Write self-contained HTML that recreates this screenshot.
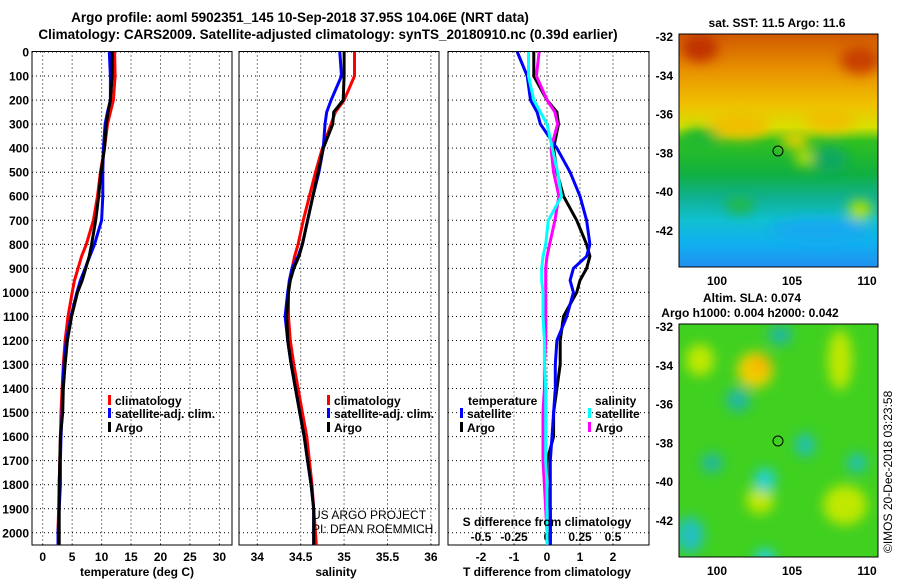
<!DOCTYPE html>
<html><head><meta charset="utf-8"><style>
body{margin:0;background:#fff}
svg{display:block;font-family:"Liberation Sans",sans-serif}
.t{font-weight:bold;font-size:12px}
</style></head><body>
<svg id="c" width="900" height="580" viewBox="0 0 900 580">
<defs>
<linearGradient id="sstg" x1="0" y1="0" x2="0" y2="1">
<stop offset="0" stop-color="#d05800"/><stop offset="0.15" stop-color="#e89000"/><stop offset="0.3" stop-color="#f0c000"/><stop offset="0.4" stop-color="#d8e000"/><stop offset="0.46" stop-color="#30c020"/><stop offset="0.6" stop-color="#10b040"/><stop offset="0.7" stop-color="#10b090"/><stop offset="0.8" stop-color="#10c0d0"/><stop offset="0.9" stop-color="#10b0f0"/><stop offset="1" stop-color="#2090f0"/>
</linearGradient>
<clipPath id="m1c"><rect x="679" y="34" width="199" height="233"/></clipPath>
<clipPath id="m2c"><rect x="679" y="324" width="199" height="233"/></clipPath>
<filter id="blur"><feGaussianBlur stdDeviation="6"/></filter>
</defs>
<text x="300" y="22" text-anchor="middle" font-size="13.5" font-weight="bold">Argo profile: aoml 5902351_145 10-Sep-2018 37.95S 104.06E (NRT data)</text>
<text x="328" y="39" text-anchor="middle" font-size="13.5" font-weight="bold">Climatology: CARS2009. Satellite-adjusted climatology: synTS_20180910.nc (0.39d earlier)</text>
<g id="plots"></g>
<g clip-path="url(#m1c)">
<rect x="679" y="34" width="199" height="233" fill="url(#sstg)"/>
<g filter="url(#blur)">
<ellipse cx="700" cy="48" rx="18" ry="14" fill="#c03000"/>
<ellipse cx="860" cy="60" rx="20" ry="14" fill="#c84000"/>
<ellipse cx="740" cy="125" rx="30" ry="14" fill="#f0c000"/>
<ellipse cx="830" cy="120" rx="25" ry="12" fill="#f0c000"/>
<ellipse cx="795" cy="140" rx="14" ry="8" fill="#e8d000"/>
<ellipse cx="700" cy="140" rx="20" ry="12" fill="#20b830"/>
<ellipse cx="805" cy="158" rx="10" ry="8" fill="#b8e000"/>
<ellipse cx="860" cy="210" rx="12" ry="10" fill="#b0e000"/>
<ellipse cx="740" cy="205" rx="15" ry="8" fill="#20b840"/>
<ellipse cx="830" cy="160" rx="18" ry="14" fill="#10a860"/>
<ellipse cx="820" cy="230" rx="50" ry="12" fill="#18a8f0"/>
</g>
</g>
<rect x="679" y="34" width="199" height="233" fill="none" stroke="#000"/>
<circle cx="778" cy="151" r="5" fill="none" stroke="#000"/>
<text x="777" y="27" text-anchor="middle" class="t">sat. SST: 11.5 Argo: 11.6</text>
<g clip-path="url(#m2c)">
<rect x="679" y="324" width="199" height="233" fill="#40d020"/>
<g filter="url(#blur)">
<ellipse cx="755" cy="370" rx="18" ry="18" fill="#f0d000"/>
<ellipse cx="760" cy="365" rx="10" ry="8" fill="#f8b000"/>
<ellipse cx="840" cy="360" rx="12" ry="30" fill="#c0e800"/>
<ellipse cx="845" cy="505" rx="22" ry="20" fill="#c0e800"/>
<ellipse cx="760" cy="500" rx="14" ry="14" fill="#c0e800"/>
<ellipse cx="780" cy="335" rx="12" ry="10" fill="#20b8a0"/>
<ellipse cx="738" cy="400" rx="12" ry="12" fill="#20b8a0"/>
<ellipse cx="805" cy="445" rx="10" ry="12" fill="#20c0b0"/>
<ellipse cx="765" cy="480" rx="11" ry="12" fill="#20d0d0"/>
<ellipse cx="712" cy="463" rx="11" ry="10" fill="#20b8a0"/>
<ellipse cx="857" cy="463" rx="10" ry="10" fill="#20c0b0"/>
<ellipse cx="690" cy="535" rx="14" ry="18" fill="#20c0c0"/>
<ellipse cx="765" cy="557" rx="10" ry="8" fill="#20d0f0"/>
<ellipse cx="700" cy="360" rx="14" ry="16" fill="#c0e800"/>
</g>
</g>
<rect x="679" y="324" width="199" height="233" fill="none" stroke="#000"/>
<circle cx="778" cy="441" r="5" fill="none" stroke="#000"/>
<text x="752" y="302" text-anchor="middle" class="t">Altim. SLA: 0.074</text>
<text x="750" y="317" text-anchor="middle" class="t">Argo h1000: 0.004 h2000: 0.042</text>
<text x="0" y="0" transform="translate(892,553) rotate(-90)" font-size="12">©IMOS 20-Dec-2018 03:23:58</text>
<text x="312" y="519" font-size="12">US ARGO PROJECT</text>
<text x="312" y="533" font-size="12">PI: DEAN ROEMMICH</text>
</svg>
<script>
const depths=[0,100,200,250,300,400,500,600,700,800,850,900,950,1000,1100,1200,1300,1400,1500,1600,1700,1800,1900,2000,2050];
const tempClim=[12.2,12.3,12.0,11.5,11.0,10.5,9.8,9.3,8.6,7.4,6.6,6.0,5.4,5.0,4.3,3.8,3.5,3.3,3.1,3.0,2.9,2.8,2.7,2.6,2.6];
const tempSat=[11.3,11.5,11.5,11.0,10.6,10.3,10.2,10.2,10.0,8.8,8.0,7.2,6.4,5.8,4.8,4.0,3.6,3.4,3.3,3.1,3.0,3.0,2.8,2.6,2.6];
const tempArgo=[11.8,11.8,11.5,11.1,10.8,10.5,9.9,9.5,9.0,8.3,7.9,7.3,6.7,5.9,4.9,4.2,3.8,3.5,3.4,3.0,2.9,2.8,2.8,2.8,2.8];
const salClim=[35.12,35.12,35.0,34.9,34.85,34.75,34.67,34.6,34.53,34.47,34.43,34.4,34.37,34.36,34.36,34.38,34.42,34.47,34.52,34.57,34.6,34.63,34.65,34.67,34.68];
const salSat=[34.95,34.97,34.85,34.8,34.78,34.76,34.71,34.64,34.58,34.52,34.47,34.4,34.37,34.35,34.32,34.35,34.39,34.44,34.49,34.54,34.58,34.62,34.65,34.65,34.65];
const salArgo=[35.0,35.0,34.99,34.88,34.87,34.76,34.7,34.64,34.58,34.52,34.48,34.42,34.38,34.36,34.34,34.35,34.39,34.44,34.49,34.54,34.58,34.62,34.65,34.65,34.65];
const dTSat=[-0.9,-0.6,-0.5,-0.3,-0.2,0.3,0.7,1.0,1.2,1.3,1.2,0.8,0.7,0.8,0.6,0.3,0.25,0.25,0.2,0.15,0.1,0.1,0.1,0.1,0.1];
const dTArgo=[-0.4,-0.4,0.0,0.3,0.35,0.2,0.3,0.5,0.9,1.2,1.3,1.2,1.0,0.9,0.5,0.4,0.4,0.3,0.2,0.2,0.0,0.0,0.1,0.1,0.1];
const dSSat=[-0.14,-0.14,-0.1,-0.05,0.0,0.04,0.08,0.11,0.01,-0.01,-0.03,-0.04,-0.04,-0.03,-0.03,-0.02,-0.02,-0.01,-0.01,-0.01,-0.01,0.0,0.0,0.0,0.0];
const dSArgo=[-0.06,-0.08,0.0,0.06,0.08,0.03,0.05,0.09,0.06,0.02,0.0,-0.01,-0.01,-0.01,-0.01,-0.01,-0.02,-0.02,-0.03,-0.03,-0.03,-0.02,-0.01,0.0,0.0];
const yTicks=[0,100,200,300,400,500,600,700,800,900,1000,1100,1200,1300,1400,1500,1600,1700,1800,1900,2000];
const tTicks=[0,5,10,15,20,25,30];
const sTicks=[34,34.5,35,35.5,36];
const sTickLabels=["34","34.5","35","35.5","36"];
const dTTicks=[-2,-1,0,1,2];
const dSTicks=[-0.5,-0.25,0,0.25,0.5];
const dSTickLabels=["-0.5","-0.25","0","0.25","0.5"];
const latTicks=[-32,-34,-36,-38,-40,-42];
const lonTicks=[100,105,110];

const NS='http://www.w3.org/2000/svg';
const G=document.getElementById('plots');
function el(t,a,p){const e=document.createElementNS(NS,t);for(const k in a)e.setAttribute(k,a[k]);(p||G).appendChild(e);return e;}
const yS=p=>52+p*0.2404;
const xT=v=>42.7+v*5.89;
const xS=v=>257.3+(v-34)*86.8;
const xD=v=>547+v*33;
const xDS=v=>547+v*132;
const panels=[{x0:32,x1:232,name:'temperature'},{x0:239,x1:439,name:'salinity'},{x0:448,x1:649,name:'difference'}];
const pTop=51.5,pBot=545;
panels.forEach((p,i)=>{
  const r=el('rect',{x:p.x0,y:pTop,width:p.x1-p.x0,height:pBot-pTop,fill:'#fff',stroke:'#000'});
  
  
  yTicks.forEach(d=>{
    const g=el('line',{x1:p.x0,x2:p.x1,y1:yS(d),y2:yS(d),stroke:'#000','stroke-dasharray':'1,3'});
    
    
  });
});
yTicks.forEach(d=>{
  const t=el('text',{x:29,y:yS(d)+4.5,'text-anchor':'end',class:'t'});
  t.textContent=d;
  
  
});
function vgrid(ticks,fx,labels,ly){
  ticks.forEach((v,k)=>{
    const g=el('line',{x1:fx(v),x2:fx(v),y1:pTop,y2:pBot,stroke:'#000','stroke-dasharray':'1,3'});
    
    
    const t=el('text',{x:fx(v),y:ly,'text-anchor':'middle',class:'t'});
    t.textContent=labels?labels[k]:v;
    
    
  });
}
vgrid(tTicks,xT,null,561);
vgrid(sTicks,xS,sTickLabels,561);
vgrid(dTTicks,xD,null,561);
dSTicks.forEach((v,k)=>{
  const t=el('text',{x:xDS(v),y:541,'text-anchor':'middle',class:'t'});
  t.textContent=dSTickLabels[k];
  
  
});
function line(vals,fx,color,name){
  const pts=depths.map((d,i)=>fx(vals[i]).toFixed(1)+','+yS(d).toFixed(1)).join(' ');
  const l=el('polyline',{points:pts,fill:'none',stroke:color,'stroke-width':3,'stroke-linejoin':'round'});
  
  
}
line(tempClim,xT,'#f00','temp-climatology-line');
line(tempSat,xT,'#00f','temp-satellite-line');
line(tempArgo,xT,'#000','temp-argo-line');
line(salClim,xS,'#f00','sal-climatology-line');
line(salSat,xS,'#00f','sal-satellite-line');
line(salArgo,xS,'#000','sal-argo-line');
line(dTArgo,xD,'#000','tdiff-argo-line');
line(dTSat,xD,'#00f','tdiff-satellite-line');
line(dSArgo,xDS,'#f0f','sdiff-argo-line');
line(dSSat,xDS,'#0ff','sdiff-satellite-line');
function lab(x,y,txt,name,anchor){
  const t=el('text',{x:x,y:y,'text-anchor':anchor||'middle',class:'t'});
  t.textContent=txt;
  
  
}
lab(137,576,'temperature (deg C)','temperature-axis-title');
lab(336,576,'salinity','salinity-axis-title');
lab(547,576,'T difference from climatology','tdiff-axis-title');
lab(547,526,'S difference from climatology','sdiff-axis-title');
function leg(x,y,color,txt,name){
  const r=el('rect',{x:x,y:y-10,width:3,height:10,fill:color});
  
  
  lab(x+7,y,txt,name,'start');
}
[[108,'temp'],[327,'sal']].forEach(([x,n])=>{
  leg(x,405,'#f00','climatology',n+'-legend-climatology');
  leg(x,418,'#00f','satellite-adj. clim.',n+'-legend-satellite');
  leg(x,432,'#000','Argo',n+'-legend-argo');
});
lab(468,405,'temperature','tdiff-legend-title','start');
leg(460,418,'#00f','satellite','tdiff-legend-satellite');
leg(460,432,'#000','Argo','tdiff-legend-argo');
lab(595,405,'salinity','sdiff-legend-title','start');
leg(588,418,'#0ff','satellite','sdiff-legend-satellite');
leg(588,432,'#f0f','Argo','sdiff-legend-argo');
const mx=v=>717+(v-100)*15;
[[36,'sst'],[326,'sla']].forEach(([y0,n])=>{
  const my=v=>y0+(-32-v)*19.4;
  latTicks.forEach(v=>{
    const t=el('text',{x:673,y:my(v)+5,'text-anchor':'end',class:'t'});
    t.textContent=v;
    
    
    const tk=el('line',{x1:874,x2:878,y1:my(v),y2:my(v),stroke:'#000'});
    
    
  });
  lonTicks.forEach(v=>{
    const t=el('text',{x:mx(v),y:y0+249,'text-anchor':'middle',class:'t'});
    t.textContent=v;
    
    
  });
});
</script>
</body></html>
